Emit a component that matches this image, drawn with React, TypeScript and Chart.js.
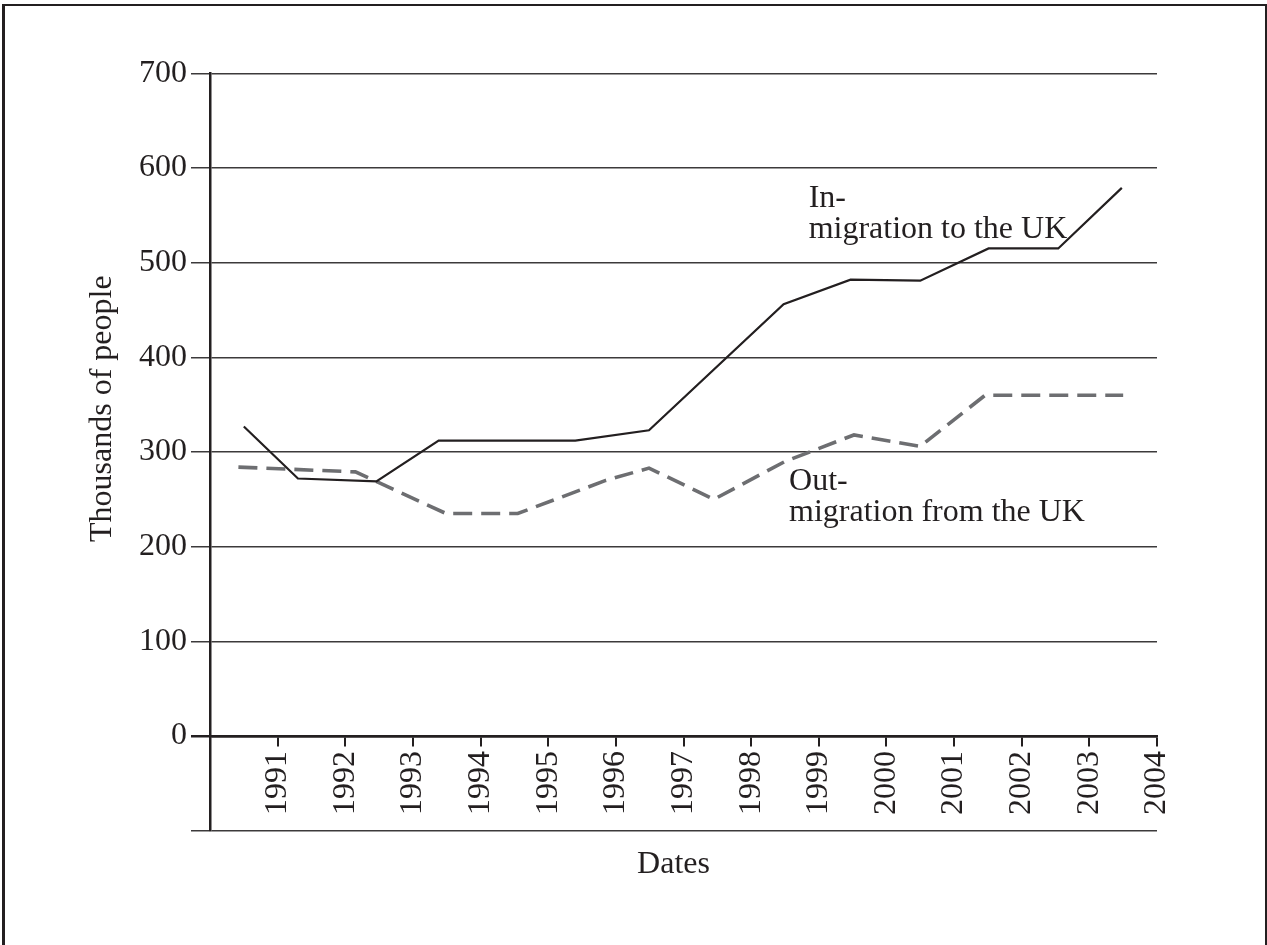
import React, { useEffect, useRef } from 'react';
import { Chart, registerables } from 'chart.js';

Chart.register(...registerables);

// ---- data ----
const yearTicks = [1991, 1992, 1993, 1994, 1995, 1996, 1997, 1998, 1999, 2000, 2001, 2002, 2003, 2004];
const valueTicks = [-100, 0, 100, 200, 300, 400, 500, 600, 700];

const inYears = [1990.5, 1991.3, 1992.46, 1993.38, 1995.4, 1996.49, 1998.48, 1999.47, 2000.5, 2001.51, 2002.54, 2003.48];
const inValues = [327, 272, 269, 312, 312, 323, 456, 482, 481, 515, 515, 579];

const outYears = [1990.42, 1992.15, 1993.49, 1994.55, 1995.85, 1996.49, 1997.45, 1998.5, 1999.52, 2000.5, 2001.46, 2003.5];
const outValues = [284, 279, 235, 235, 270, 283, 250, 290, 318, 306, 360, 360];

const inLabelLines = ['In-', 'migration to the UK'];
const outLabelLines = ['Out-', 'migration from the UK'];
const inLabelAt = [1998.85, 559];
const outLabelAt = [1998.56, 260];
const xTitle = 'Dates';
const yTitle = 'Thousands of people';

// ---- style ----
const FONT = '"Liberation Serif", "Times New Roman", serif';
const FONT_SIZE = 32;
const INK = '#231f20';
const GRID = '#3c3a3b';
const DASH_GREY = '#6d6e71';

const overlayPlugin = {
  id: 'overlayTexts',
  beforeDraw(chart: any) {
    const { ctx, width, height } = chart;
    ctx.save();
    ctx.fillStyle = '#ffffff';
    ctx.fillRect(0, 0, width, height);
    ctx.fillStyle = INK;
    ctx.fillRect(2, 4, 3, height - 4);
    ctx.fillRect(2, 4, width - 2, 2);
    ctx.fillRect(width - 2, 4, 2, height - 4);
    ctx.restore();
  },
  afterDraw(chart: any) {
    const { ctx, scales, chartArea } = chart;
    const x = scales.x;
    const y = scales.y;
    ctx.save();
    ctx.fillStyle = INK;
    ctx.font = `${FONT_SIZE}px ${FONT}`;
    ctx.textAlign = 'left';
    ctx.textBaseline = 'alphabetic';
    const lineStep = 31;
    inLabelLines.forEach((t, i) => {
      ctx.fillText(t, x.getPixelForValue(inLabelAt[0]), y.getPixelForValue(inLabelAt[1]) + i * lineStep);
    });
    outLabelLines.forEach((t, i) => {
      ctx.fillText(t, x.getPixelForValue(outLabelAt[0]), y.getPixelForValue(outLabelAt[1]) + i * lineStep);
    });

    // x title
    ctx.textAlign = 'center';
    ctx.textBaseline = 'middle';
    ctx.fillText(xTitle, (chartArea.left + chartArea.right) / 2 - 10, chartArea.bottom + 34);

    // y title
    const cy = (y.getPixelForValue(0) + y.getPixelForValue(700)) / 2 + 4;
    ctx.translate(chartArea.left - 107, cy);
    ctx.rotate(-Math.PI / 2);
    ctx.fillText(yTitle, 0, 0);
    ctx.restore();
  },
};

export default function App() {
  const canvasRef = useRef<HTMLCanvasElement | null>(null);

  useEffect(() => {
    const canvas = canvasRef.current;
    if (!canvas) return;
    const chart = new Chart(canvas, {
      type: 'line',
      data: {
        datasets: [
          {
            label: 'In-migration to the UK',
            data: inYears.map((yr, i) => ({ x: yr, y: inValues[i] })),
            borderColor: INK,
            borderWidth: 2.2,
            pointRadius: 0,
            tension: 0,
            fill: false,
          },
          {
            label: 'Out-migration from the UK',
            data: outYears.map((yr, i) => ({ x: yr, y: outValues[i] })),
            borderColor: DASH_GREY,
            borderWidth: 3.6,
            borderDash: [19, 9],
            borderCapStyle: 'butt',
            pointRadius: 0,
            tension: 0,
            fill: false,
          },
        ],
      },
      options: {
        responsive: false,
        animation: false,
        devicePixelRatio: 1,
        layout: { padding: { left: 0, top: 73.3, right: 110, bottom: 114.3 } },
        plugins: {
          legend: { display: false },
          tooltip: { enabled: false },
          title: { display: false },
        },
        scales: {
          x: {
            type: 'linear',
            position: { y: 0 },
            min: 1990,
            max: 2004,
            afterBuildTicks: (s: any) => {
              s.ticks = yearTicks.map((v) => ({ value: v }));
            },
            afterFit: (s: any) => {
              s.height = 0;
            },
            ticks: {
              autoSkip: false,
              minRotation: 90,
              maxRotation: 90,
              padding: 6,
              color: INK,
              font: { family: FONT, size: FONT_SIZE },
              callback: (v: any) => String(v),
            },
            grid: {
              drawOnChartArea: false,
              drawTicks: true,
              tickLength: 9,
              color: INK,
              lineWidth: 2,
            },
            border: { display: true, color: INK, width: 2.5 },
          },
          y: {
            type: 'linear',
            min: -100,
            max: 700,
            afterBuildTicks: (s: any) => {
              s.ticks = valueTicks.map((v) => ({ value: v }));
            },
            afterFit: (s: any) => {
              s.width = 210;
            },
            ticks: {
              padding: 4,
              color: INK,
              font: { family: FONT, size: FONT_SIZE },
              callback: (v: any) => (v === -100 ? '' : String(v)),
            },
            grid: {
              drawTicks: true,
              tickLength: 19,
              color: (c: any) => (c.tick && c.tick.value === 0 ? INK : GRID),
              lineWidth: (c: any) => (c.tick && c.tick.value === 0 ? 2.5 : 1.5),
            },
            border: { display: true, color: INK, width: 2.5 },
          },
        },
      },
      plugins: [overlayPlugin],
    } as any);
    return () => chart.destroy();
  }, []);

  return (
    <div style={{ position: 'absolute', left: 0, top: 0, width: 1267, height: 945 }}>
      <canvas ref={canvasRef} width={1267} height={945} style={{ display: 'block', width: 1267, height: 945 }} />
    </div>
  );
}
